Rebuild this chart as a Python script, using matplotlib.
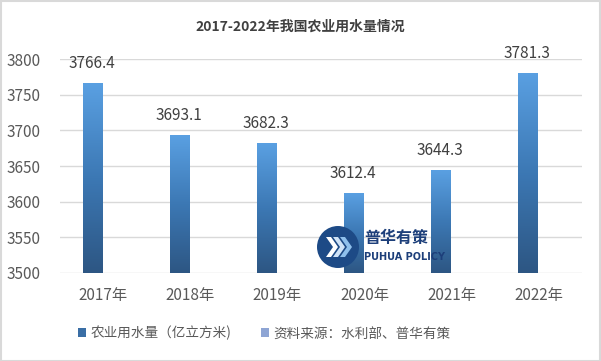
import numpy as np
import matplotlib.pyplot as plt
from matplotlib.patches import Patch, Rectangle, Ellipse, Polygon
from matplotlib.colors import LinearSegmentedColormap

plt.rcParams['font.family'] = ['Noto Sans CJK SC', 'DejaVu Sans']

years = ['2017年', '2018年', '2019年', '2020年', '2021年', '2022年']
water = [3766.4, 3693.1, 3682.3, 3612.4, 3644.3, 3781.3]
yticks = [3500, 3550, 3600, 3650, 3700, 3750, 3800]

txt = '#595959'
cmap = LinearSegmentedColormap.from_list('bar', ['#2d5683', '#3c78b4', '#5aa0e2'])

fig = plt.figure(figsize=(6.01, 3.61), dpi=100)
ax = fig.add_axes([0.0998, 0.2446, 0.8686, 0.5911])

x = np.arange(len(years))
bars = ax.bar(x - 0.13, water, width=0.22, color='none', zorder=3)
grad = np.linspace(0, 1, 256).reshape(-1, 1)
for b in bars:
    x0, y0 = b.get_x(), 3500
    x1, y1 = x0 + b.get_width(), b.get_height()
    im = ax.imshow(grad, cmap=cmap, origin='lower', aspect='auto',
                   extent=[x0, x1, y0, y1], zorder=3)
    im.set_clip_path(b)
    ax.annotate(f'{b.get_height():.1f}', (x0 + b.get_width() / 2, y1),
                xytext=(0, 8), textcoords='offset points',
                ha='center', va='bottom', fontsize=11, color='#404040')

ax.set_xlim(-0.5, 5.5)
ax.set_ylim(3500, 3800)
ax.set_yticks(yticks)
ax.set_xticks(x)
ax.set_xticklabels(years)
ax.tick_params(length=0, labelsize=11, colors=txt)
ax.tick_params(axis='x', pad=10)
ax.tick_params(axis='y', pad=14)
ax.grid(axis='y', color='#d9d9d9', linewidth=1, zorder=0)
for s in ax.spines.values():
    s.set_visible(False)

fig.text(0.5, 0.925, '2017-2022年我国农业用水量情况', ha='center', va='center',
         fontsize=10, fontweight='bold', color='#404040')

handles = [Patch(facecolor='#3a6ea5'), Patch(facecolor='#8ea5d4')]
labels = ['农业用水量（亿立方米)', '资料来源：水利部、普华有策']
fig.legend(handles, labels, loc='center', bbox_to_anchor=(0.44, 0.077), ncol=2,
           frameon=False, fontsize=9.8, labelcolor=txt, handlelength=0.6,
           handleheight=0.6, handletextpad=0.3, columnspacing=2.2)

# watermark logo
W, H = 601, 361
fig.patches.append(Ellipse((338 / W, 1 - 247 / H), 42 / W, 42 / H, transform=fig.transFigure,
                           facecolor='#1d4a86', edgecolor='none', zorder=5))
for i, c in enumerate(['#ffffff', '#cfe3f7', '#8fc0ec']):
    px = 326 + i * 7
    pts = [(px, 237), (px + 5, 237), (px + 12, 247), (px + 5, 257), (px, 257), (px + 7, 247)]
    fig.patches.append(Polygon([(a / W, 1 - b / H) for a, b in pts], closed=True,
                               transform=fig.transFigure, facecolor=c, edgecolor='none', zorder=6))
fig.text(364 / W, 1 - 238 / H, '普华有策', fontsize=11.5, fontweight='bold',
         color='#1d3f7a', va='center', ha='left', zorder=6)
fig.text(364 / W, 1 - 257 / H, 'PUHUA POLICY', fontsize=7, fontweight='bold',
         color='#1d3f7a', va='center', ha='left', zorder=6, family='DejaVu Sans')

fig.patches.append(Rectangle((0.001, 0.001), 0.997, 0.996, transform=fig.transFigure,
                             fill=False, edgecolor='#d9d9d9', linewidth=1.5))

fig.savefig('out.png', dpi=100)
